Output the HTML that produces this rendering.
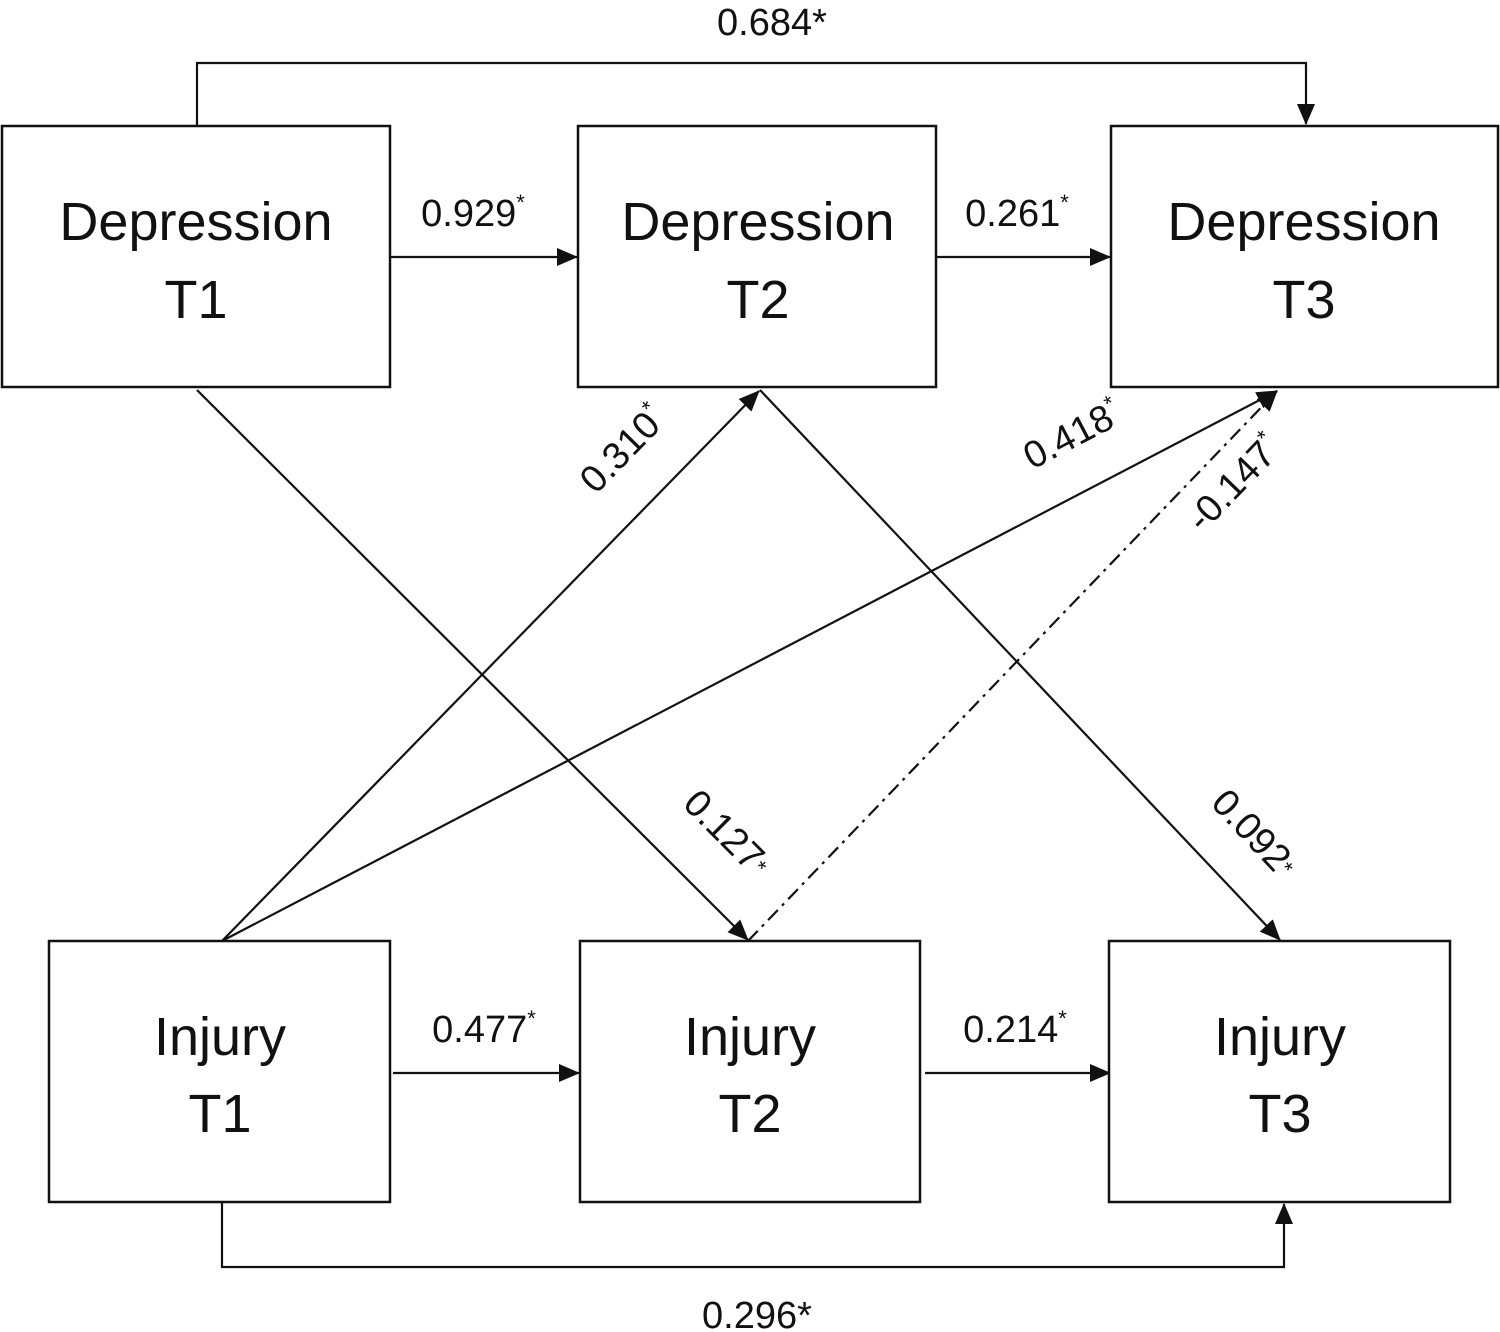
<!DOCTYPE html>
<html><head><meta charset="utf-8"><style>
html,body{margin:0;padding:0;background:#fff;}
svg{display:block;}
text{font-family:"Liberation Sans",sans-serif;fill:#111;}
.box{fill:#fff;stroke:#111;stroke-width:2.5;}
.ln{stroke:#111;stroke-width:2.2;fill:none;}
.big{font-size:54px;text-anchor:middle;}
.lab{font-size:38px;text-anchor:middle;}
.sup{font-size:22px;}
</style></head><body>
<svg width="1500" height="1332" viewBox="0 0 1500 1332" xmlns="http://www.w3.org/2000/svg">
<defs>
<marker id="a" markerWidth="12" markerHeight="12" refX="11" refY="6" orient="auto" markerUnits="userSpaceOnUse">
<path d="M0,0 L12,6 L0,12 Z" fill="#111"/></marker>
<marker id="b" markerWidth="22" markerHeight="18" refX="20" refY="9" orient="auto" markerUnits="userSpaceOnUse">
<path d="M0,0 L21,9 L0,18 Z" fill="#111"/></marker>
</defs>
<!-- top and bottom connectors -->
<polyline class="ln" points="197,126 197,63 1306,63 1306,124" marker-end="url(#b)"/>
<polyline class="ln" points="222,1202 222,1267 1284,1267 1284,1204" marker-end="url(#b)"/>
<!-- horizontal -->
<line class="ln" x1="390" y1="257" x2="577" y2="257" marker-end="url(#b)"/>
<line class="ln" x1="936" y1="257" x2="1110" y2="257" marker-end="url(#b)"/>
<line class="ln" x1="393" y1="1073" x2="579" y2="1073" marker-end="url(#b)"/>
<line class="ln" x1="925" y1="1073" x2="1110" y2="1073" marker-end="url(#b)"/>
<!-- diagonals -->
<line class="ln" x1="197" y1="390" x2="748" y2="940" marker-end="url(#b)"/>
<line class="ln" x1="760" y1="390" x2="1280" y2="940" marker-end="url(#b)"/>
<line class="ln" x1="222" y1="941" x2="759" y2="391" marker-end="url(#b)"/>
<line class="ln" x1="222" y1="941" x2="1277" y2="391" marker-end="url(#b)"/>
<line class="ln" x1="748" y1="941" x2="1277" y2="391" stroke-dasharray="14,6,3,6" marker-end="url(#b)"/>
<!-- boxes -->
<rect class="box" x="2" y="126" width="388" height="261"/>
<rect class="box" x="578" y="126" width="358" height="261"/>
<rect class="box" x="1111" y="126" width="387" height="261"/>
<rect class="box" x="49" y="941" width="341" height="261"/>
<rect class="box" x="580" y="941" width="340" height="261"/>
<rect class="box" x="1109" y="941" width="341" height="261"/>
<!-- box text -->
<text class="big" x="196" y="240">Depression</text><text class="big" x="196" y="318">T1</text>
<text class="big" x="758" y="240">Depression</text><text class="big" x="758" y="318">T2</text>
<text class="big" x="1304" y="240">Depression</text><text class="big" x="1304" y="318">T3</text>
<text class="big" x="220" y="1055">Injury</text><text class="big" x="220" y="1132">T1</text>
<text class="big" x="750" y="1055">Injury</text><text class="big" x="750" y="1132">T2</text>
<text class="big" x="1280" y="1055">Injury</text><text class="big" x="1280" y="1132">T3</text>
<!-- labels -->
<text class="lab" x="772" y="35">0.684*</text>
<text class="lab" x="757" y="1328">0.296*</text>
<text class="lab" x="473" y="226">0.929<tspan class="sup" dy="-16">*</tspan></text>
<text class="lab" x="1017" y="226">0.261<tspan class="sup" dy="-16">*</tspan></text>
<text class="lab" x="484" y="1042">0.477<tspan class="sup" dy="-16">*</tspan></text>
<text class="lab" x="1015" y="1042">0.214<tspan class="sup" dy="-16">*</tspan></text>
<text class="lab" transform="translate(632,458) rotate(-45.7)">0.310<tspan class="sup" dy="-16">*</tspan></text>
<text class="lab" transform="translate(1078,446) rotate(-27.6)">0.418<tspan class="sup" dy="-16">*</tspan></text>
<text class="lab" transform="translate(1243,492) rotate(-46)">-0.147<tspan class="sup" dy="-16">*</tspan></text>
<text class="lab" transform="translate(718,842) rotate(45)">0.127<tspan class="sup" dy="-4">*</tspan></text>
<text class="lab" transform="translate(1245,842) rotate(46.7)">0.092<tspan class="sup" dy="-4">*</tspan></text>
</svg>
</body></html>
